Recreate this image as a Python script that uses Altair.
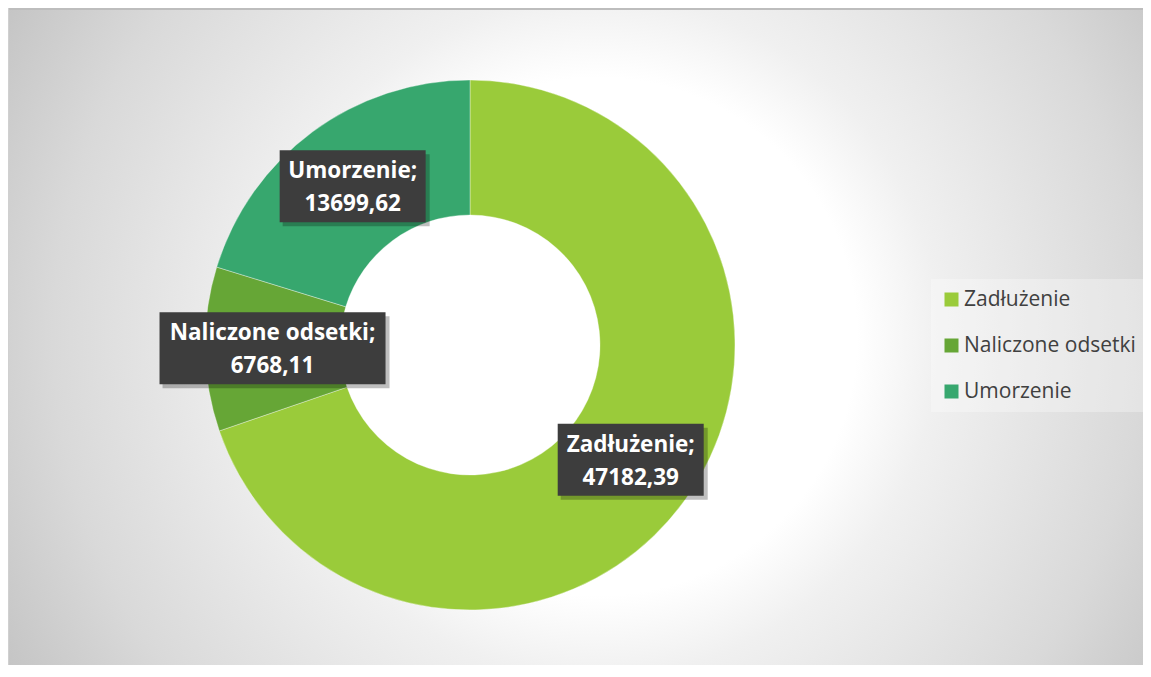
import altair as alt
import pandas as pd

categories = ["Zadłużenie", "Naliczone odsetki", "Umorzenie"]
values = [47182.39, 6768.11, 13699.62]
colors = ["#9ACB3A", "#66A636", "#37A76E"]

df = pd.DataFrame({"kat": categories, "val": values, "ord": list(range(len(categories)))})

W, H = 1135, 657
CX, CY = 462, 337
R_OUT, R_IN = 265, 130
R_LAB = (R_OUT + R_IN) / 2

base = alt.Chart(df)

bg_gradient = alt.RadialGradient(
    gradient="radial",
    x1=0.52, y1=0.5, r1=0, x2=0.52, y2=0.5, r2=0.6,
    stops=[
        alt.GradientStop(offset=0, color="#ffffff"),
        alt.GradientStop(offset=0.38, color="#ffffff"),
        alt.GradientStop(offset=0.5, color="#f0f0f0"),
        alt.GradientStop(offset=0.8, color="#d9d9d9"),
        alt.GradientStop(offset=1, color="#c4c4c4"),
    ],
)

background = base.mark_rect(color=bg_gradient).encode(
    x=alt.value(0), x2=alt.value(W), y=alt.value(0), y2=alt.value(H)
)

arcs = base.mark_arc(radius=R_OUT, radius2=R_IN, stroke="#ffffff", strokeWidth=1, strokeOpacity=0.35).encode(
    theta=alt.Theta("val:Q", stack=True),
    order=alt.Order("ord:Q"),
    color=alt.Color(
        "kat:N",
        scale=alt.Scale(domain=categories, range=colors),
        legend=alt.Legend(
            title=None,
            orient="none",
            legendX=923,
            legendY=271,
            symbolType="square",
            symbolSize=196,
            symbolStrokeWidth=0,
            labelFont="Open Sans",
            labelFontSize=21,
            labelColor="#404040",
            labelOffset=2,
            rowPadding=24,
            padding=10,
            fillColor="rgba(255,255,255,0.3)",
            labelLimit=400,
        ),
    ),
    x=alt.value(CX),
    y=alt.value(CY),
)

lab = base.transform_joinaggregate(total="sum(val)").transform_window(
    cum="sum(val)", sort=[alt.SortField("ord")], frame=[None, 0]
).transform_calculate(
    mid="(datum.cum - datum.val / 2) / datum.total * 2 * PI",
    bx=f"{CX} + {R_LAB} * sin(datum.mid)",
    by=f"{CY} - {R_LAB} * cos(datum.mid)",
    lab="datum.kat + ';\\n' + replace(format(datum.val, '.2f'), '.', ',')",
)

narrow = "M-73,-36H73V36H-73Z"
wide = "M-113,-36H113V36H-113Z"
narrow_sh = "M-70,-32H77V40H-70Z"
wide_sh = "M-110,-32H117V40H-110Z"

pos = dict(x=alt.X("bx:Q", scale=None), y=alt.Y("by:Q", scale=None))

shadows = lab.mark_point(filled=True, size=4, color="#000000", opacity=0.25, strokeWidth=0).encode(
    shape=alt.condition(alt.datum.kat == "Naliczone odsetki", alt.value(wide_sh), alt.value(narrow_sh)),
    **pos,
)
boxes = lab.mark_point(filled=True, size=4, color="#3d3d3d", opacity=1, strokeWidth=0).encode(
    shape=alt.condition(alt.datum.kat == "Naliczone odsetki", alt.value(wide), alt.value(narrow)),
    **pos,
)
texts = lab.mark_text(
    lineBreak="\n", font="Open Sans", fontSize=22.5, fontWeight="bold", color="#ffffff",
    align="center", baseline="middle", lineHeight=33, dy=-15,
).encode(text="lab:N", **pos)

top_line = base.mark_rule(color="#bdbdbd", strokeWidth=2).encode(
    x=alt.value(0), x2=alt.value(W), y=alt.value(1)
)
left_line = base.mark_rule(color="#d0d0d0", strokeWidth=2).encode(
    x=alt.value(0), y=alt.value(0), y2=alt.value(H)
)

chart = alt.layer(background, arcs, shadows, boxes, texts, top_line, left_line).properties(
    width=W, height=H, autosize=alt.AutoSizeParams(type="none"), padding=0
).configure_view(stroke=None)

chart.save("out.html", embed_options={"renderer": "svg", "actions": False})
